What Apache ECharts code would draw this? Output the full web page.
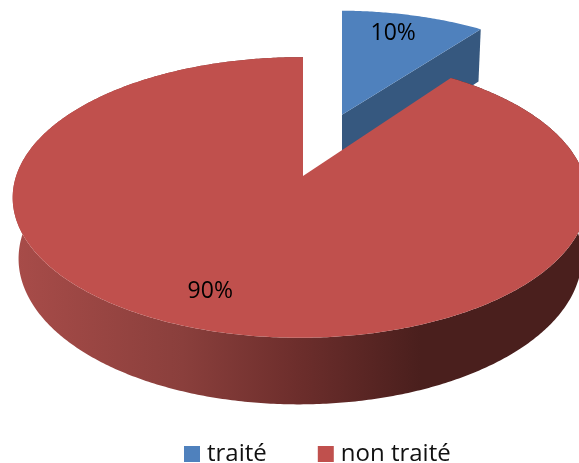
<!DOCTYPE html>
<html><head><meta charset="utf-8">
<style>html,body{margin:0;padding:0;background:#fff}#c{width:579px;height:463px}</style>
<script src="https://cdn.jsdelivr.net/npm/echarts@6/dist/echarts.min.js"></script>
</head><body><div id="c"></div>
<script>
const categories = ['traité', 'non traité'];
const shares = [10, 90];
const topColors = ['#4f81bd', '#c0504d'];
const sideColors = ['#36587f', '#7a3533'];
const explodeBack = [0.48, 0];
const explodeRightPx = [39, 0];
const labelSpots = [[0.379, 1.242], [-0.2885, -0.744]];

// Perspective projection of the pie disc onto the page
const view = { x0: 303, y0: 176, A: 284, B: 137, k: 0.153, q: 0.01, depth: 61, shrink: 0.02 };
function project(u, v, w, dx) {
  const den = 1 + view.k * v + view.q * u + view.shrink * w;
  return [view.x0 + (dx || 0) + view.A * u / den, view.y0 - (view.B * v - view.depth * w) / den];
}
const total = shares.reduce((a, b) => a + b, 0);
function sliceRange(i) {
  const before = shares.slice(0, i).reduce((a, b) => a + b, 0);
  return [before / total * 2 * Math.PI, (before + shares[i]) / total * 2 * Math.PI];
}
function rim(a0, a1, oy, w, dx) {
  const pts = [], n = Math.max(2, Math.round((a1 - a0) / 0.01));
  for (let j = 0; j <= n; j++) {
    const a = a0 + (a1 - a0) * j / n;
    pts.push(project(Math.sin(a), Math.cos(a) + oy, w, dx));
  }
  return pts;
}
function renderSlice(i) {
  return function (params, api) {
    const [a0, a1] = sliceRange(i);
    const oy = explodeBack[i], dx = explodeRightPx[i];
    const children = [];
    if (i === 0) {
      const eu = Math.sin(a1), ev = Math.cos(a1) + oy;
      children.push({ type: 'polygon', shape: { points: [project(0, oy, 0, dx), project(eu, ev, 0, dx), project(eu, ev, 1, dx), project(0, oy, 1, dx)] },
        style: { fill: sideColors[0] } });
    } else {
      const top = rim(a0, a1, oy, 0, dx), bot = rim(a0, a1, oy, 1, dx).reverse();
      children.push({ type: 'polygon', shape: { points: top.concat(bot) },
        style: { fill: new echarts.graphic.LinearGradient(13, 0, 579, 0, [
          { offset: 0, color: '#a84c49' },
          { offset: 0.3, color: '#8a3f3c' },
          { offset: 0.5, color: '#6d2e2c' },
          { offset: 0.72, color: '#4a1f1d' },
          { offset: 1, color: '#4a1f1d' }], true) } });
    }
    children.push({ type: 'polygon', shape: { points: [project(0, oy, 0, dx)].concat(rim(a0, a1, oy, 0, dx)) },
      style: { fill: topColors[i] } });
    const p = project(labelSpots[i][0], labelSpots[i][1], 0);
    children.push({ type: 'text', x: p[0], y: p[1], z2: 10,
      style: { text: Math.round(api.value(0) / total * 100) + '%', fill: '#000', font: '23px "Open Sans"', align: 'center', verticalAlign: 'middle' } });
    return { type: 'group', children };
  };
}
const chart = echarts.init(document.getElementById('c'), null, { renderer: 'canvas' });
chart.setOption({
  animation: false,
  legend: { left: 184, top: 442, padding: 0, itemWidth: 16, itemHeight: 16, itemGap: 51, icon: 'rect', selectedMode: false,
    data: categories, textStyle: { fontFamily: '"Open Sans"', fontSize: 24, color: '#111', padding: [0, 0, 0, 2] } },
  series: categories.map((name, i) => ({
    type: 'custom', name, coordinateSystem: 'none', silent: true, clip: false, z: 2 + i,
    itemStyle: { color: topColors[i] },
    data: [[shares[i]]], renderItem: renderSlice(i)
  }))
});
</script></body></html>
